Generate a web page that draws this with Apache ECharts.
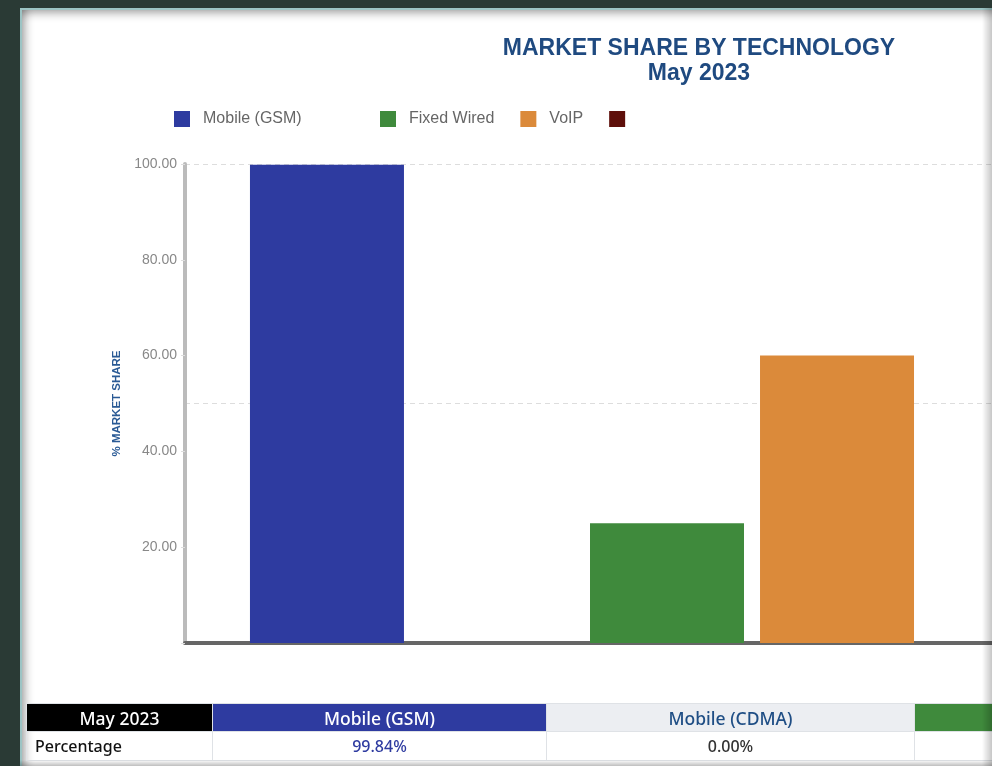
<!DOCTYPE html>
<html>
<head>
<meta charset="utf-8">
<script src="https://cdn.jsdelivr.net/npm/echarts@6/dist/echarts.min.js"></script>
<style>
  html, body { margin:0; padding:0; width:992px; height:766px; overflow:hidden; background:#2a3a35; }
  #panel { position:absolute; left:20px; top:8px; width:990px; height:770px; background:#fff;
    border-top:2px solid #9cc4c4; border-left:2px solid #9cc4c4; box-sizing:border-box;
    box-shadow: inset 0 9px 10px -6px rgba(0,0,0,0.35), inset 9px 0 10px -6px rgba(0,0,0,0.35); }
  #chart { position:absolute; left:0; top:0; width:1200px; height:766px; }
  #tbl { position:absolute; left:26px; top:703px; border-collapse:collapse; table-layout:fixed; width:1200px;
    font-family:"Noto Sans", "Open Sans", sans-serif; }
  #tbl td { border:1px solid #dfe2e6; text-align:center; padding:0; overflow:hidden; white-space:nowrap; }
  #tbl tr.h td { height:27px; font-size:17.5px; font-weight:500; }
  #tbl tr.v td { height:28px; font-size:16px; font-weight:500; }
  #edgeR { position:absolute; left:982px; top:8px; width:10px; height:758px;
    background:linear-gradient(to right, rgba(0,0,0,0), rgba(0,0,0,0.22)); }
  #edgeB { position:absolute; left:20px; top:760px; width:972px; height:6px;
    background:linear-gradient(to bottom, rgba(0,0,0,0), rgba(0,0,0,0.25)); }
</style>
</head>
<body>
<div id="panel"></div>
<div id="chart"></div>
<table id="tbl"></table>
<div id="edgeR"></div>
<div id="edgeB"></div>
<script>
// ---- data ----
const categories = ['May 2023'];
const seriesNames = ['Mobile (GSM)', 'Mobile (CDMA)', 'Fixed Wired', 'VoIP', 'Other'];
const gsmValues = [99.84];
const cdmaValues = [0.00];
const fixedValues = [25.0];
const voipValues = [60.0];
const otherValues = [0.00];
const yTickValues = [0, 20, 40, 60, 80, 100];
const titleLines = ['MARKET SHARE BY TECHNOLOGY', 'May 2023'];
const yAxisTitle = '% MARKET SHARE';
const rowLabel = 'Percentage';

// ---- styles ----
const seriesColors = ['#2e3ba0', '#eceef2', '#3f8a3c', '#db8a3a', '#5e0f0a'];
const headerText = ['#ffffff', '#1f4e85', '#ffffff', '#ffffff', '#ffffff'];
const valueText = ['#2e3ba0', '#333333', '#333333', '#333333', '#333333'];
const colWidths = [186, 334, 368, 312, 300, 300];

const allValues = [gsmValues, cdmaValues, fixedValues, voipValues, otherValues];

const chart = echarts.init(document.getElementById('chart'), null, {renderer: 'canvas'});
const legendText = { fontFamily: 'Arial, Liberation Sans, sans-serif', fontSize: 16, color: '#666', padding: [0, 0, 0, 8] };
const option = {
  backgroundColor: 'transparent',
  animation: false,
  title: {
    text: titleLines.join('\n'),
    left: 699, top: 36, padding: 0, textAlign: 'center',
    textStyle: { fontFamily: 'Arial, Liberation Sans, sans-serif', fontSize: 23, fontWeight: 'bold', color: '#1f4a80', lineHeight: 25 }
  },
  legend: [
    {
      data: [seriesNames[0]], left: 174, top: 111, padding: 0, itemWidth: 16, itemHeight: 16, icon: 'rect',
      textStyle: legendText
    },
    {
      data: [seriesNames[2], seriesNames[3], seriesNames[4]], left: 380, top: 111, padding: 0,
      itemWidth: 16, itemHeight: 16, icon: 'rect', itemGap: 26,
      formatter: n => n === seriesNames[4] ? '' : n,
      textStyle: legendText
    }
  ],
  grid: { left: 185, right: 51, top: 164, bottom: 123, containLabel: false },
  xAxis: {
    type: 'category', data: categories,
    axisLine: { lineStyle: { color: '#666', width: 4 } },
    axisTick: { show: false }, axisLabel: { show: false }, splitLine: { show: false }
  },
  yAxis: [
    {
      type: 'value', min: yTickValues[0], max: yTickValues[yTickValues.length - 1],
      interval: yTickValues[1] - yTickValues[0],
      name: yAxisTitle, nameLocation: 'middle', nameRotate: 90, nameGap: 62,
      nameTextStyle: { fontFamily: 'Arial, Liberation Sans, sans-serif', fontSize: 11.5, fontWeight: 'bold', color: '#2a5a95' },
      axisLine: { show: true, lineStyle: { color: '#bbb', width: 4 } },
      axisTick: { show: true, length: 4, lineStyle: { color: '#ddd' } },
      axisLabel: { margin: 8, fontFamily: 'Arial, Liberation Sans, sans-serif', fontSize: 14, color: '#888',
        formatter: v => v === 0 ? '' : v.toFixed(2) },
      splitLine: { show: false }
    },
    {
      type: 'value', min: 0, max: 100, interval: 50, position: 'left',
      axisLine: { show: false }, axisTick: { show: false }, axisLabel: { show: false },
      splitLine: { show: true, lineStyle: { color: '#ddd', type: [5, 4], width: 1 } }
    }
  ],
  series: seriesNames.map((n, i) => ({
    name: n, type: 'bar', data: allValues[i], barWidth: 154, barGap: '10.4%',
    itemStyle: { color: seriesColors[i] }
  }))
};
chart.setOption(option);

// ---- table built from the same arrays ----
const tbl = document.getElementById('tbl');
let cg = '<colgroup>' + colWidths.map(w => `<col style="width:${w}px">`).join('') + '</colgroup>';
let h = `<tr class="h"><td style="background:#000;color:#fff">${categories[0]}</td>`;
let v = `<tr class="v"><td style="text-align:left;padding-left:8px;color:#111">${rowLabel}</td>`;
seriesNames.forEach((n, i) => {
  h += `<td style="background:${seriesColors[i]};color:${headerText[i]}">${n}</td>`;
  v += `<td style="color:${valueText[i]}">${allValues[i][0].toFixed(2)}%</td>`;
});
tbl.innerHTML = cg + h + '</tr>' + v + '</tr>';
</script>
</body>
</html>
